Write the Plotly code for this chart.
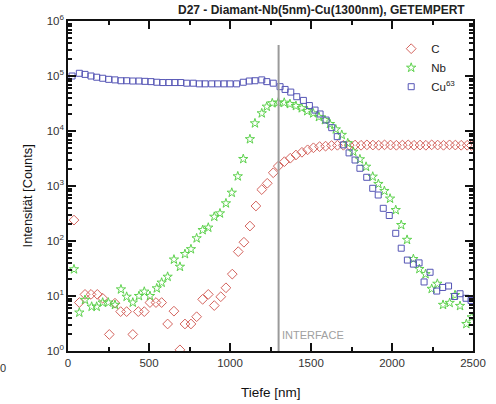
import plotly.graph_objects as go

# ---- data ----
c_depth = [37, 70, 105, 142, 181, 214, 255, 290, 325, 362, 400, 434, 471, 506, 543, 578, 615, 654, 691, 722,
           759, 794, 831, 866, 903, 943, 975, 1014, 1051, 1086, 1123, 1160, 1196, 1230, 1267, 1298, 1336, 1372,
           1407, 1444, 1479, 1515, 1553, 1590, 1627, 1663, 1700, 1736, 1772, 1809, 1845, 1882, 1918, 1954, 1991,
           2027, 2064, 2100, 2136, 2173, 2209, 2245, 2282, 2318, 2355, 2391, 2427, 2464, 2490]
c_counts = [240, 7.6, 10.7, 10.7, 10.7, 9.1, 2.0, 7.4, 5.2, 5.2, 2.0, 5.2, 5.2, 7.6, 7.6, 7.6, 3.1, 5.3, 1.05, 3.1,
            3.1, 4.2, 8.7, 10.7, 6.7, 9.7, 14.1, 25, 64, 95, 187, 433, 860, 1120, 1740, 2300, 2770, 3200,
            3660, 4100, 4550, 4950, 5200, 5300, 5450, 5500, 5500, 5550, 5550, 5500, 5600, 5550, 5500, 5600, 5550,
            5500, 5550, 5600, 5500, 5550, 5500, 5600, 5550, 5500, 5600, 5550, 5500, 5500, 5450]

nb_depth = [37, 70, 105, 146, 177, 214, 249, 290, 327, 362, 400, 438, 471, 506, 548, 578, 615, 654, 691, 722,
            759, 794, 831, 866, 903, 938, 975, 1011, 1048, 1082, 1123, 1154, 1196, 1227, 1261, 1298, 1335, 1370,
            1407, 1443, 1477, 1514, 1549, 1586, 1617, 1653, 1690, 1727, 1761, 1802, 1840, 1881, 1916, 1953, 1988,
            2023, 2057, 2093, 2132, 2169, 2207, 2245, 2280, 2315, 2356, 2389, 2420, 2459, 2492]
nb_counts = [30.6, 5.0, 8.5, 6.4, 6.4, 7.6, 7.6, 6.9, 13.2, 9.7, 7.6, 10, 12, 10, 13.8, 17.5, 22.4, 46, 34, 58,
             71, 112, 158, 175, 276, 318, 484, 755, 1500, 3100, 7100, 13800, 21000, 27700, 32000, 33000, 32700, 31000,
             28500, 26000, 23000, 21000, 18000, 15800, 13400, 10700, 8500, 6000, 4200, 3060, 2240, 1480, 1090, 813, 590,
             365, 195, 105, 47, 31, 25, 13.5, 16.7, 6.9, 7.5, 10.4, 6.6, 3.1, 4.1]

cu_depth = [25, 70, 105, 142, 177, 214, 251, 290, 327, 362, 400, 438, 475, 512, 548, 585, 623, 660, 696, 733,
            773, 811, 846, 887, 924, 963, 1000, 1041, 1082, 1119, 1154, 1196, 1227, 1267, 1309, 1340, 1375, 1412,
            1453, 1490, 1525, 1556, 1593, 1628, 1662, 1700, 1735, 1772, 1802, 1844, 1881, 1915, 1946, 1983, 2023,
            2057, 2095, 2132, 2167, 2198, 2235, 2276, 2313, 2349, 2386, 2420, 2457, 2488]
cu_counts = [100000, 112000, 107000, 100000, 95000, 91000, 87000, 85000, 82000, 82000, 81000, 81000, 80000, 79000,
             77000, 76000, 76000, 76000, 76000, 74000, 74000, 72000, 72000, 72000, 72000, 72000, 72000, 72000,
             77000, 81000, 82000, 85000, 79000, 74000, 64000, 57000, 51000, 42000, 36000, 29000, 24000, 20400,
             15800, 11500, 7900, 5600, 4000, 2970, 2100, 1440, 908, 686, 393, 291, 138, 74, 45, 38, 40, 18, 27,
             12.3, 14.3, 15.2, 9.8, 11, 9.1, 8.3]

x_ticks = [0, 500, 1000, 1500, 2000, 2500]
y_tick_exps = [0, 1, 2, 3, 4, 5, 6]
interface_depth = 1300

FONT = "Liberation Sans, Arial, sans-serif"

fig = go.Figure()
fig.add_trace(go.Scatter(x=c_depth, y=c_counts, mode="markers", name="C",
                         marker=dict(symbol="diamond-open", size=7.5, color="#d4645e", line=dict(width=1))))
fig.add_trace(go.Scatter(x=nb_depth, y=nb_counts, mode="markers", name="Nb",
                         marker=dict(symbol="star-open", size=7, color="#5ed24e", line=dict(width=1))))
fig.add_trace(go.Scatter(x=cu_depth, y=cu_counts, mode="markers", name="Cu<sup>63</sup>",
                         marker=dict(symbol="square-open", size=6, color="#5555b5", line=dict(width=1))))

fig.add_shape(type="line", xref="x", yref="paper", x0=interface_depth, x1=interface_depth, y0=0, y1=0.927,
              line=dict(color="#9a9a9a", width=2))
fig.add_annotation(x=interface_depth, xref="x", y=0.048, yref="paper", text="INTERFACE", showarrow=False,
                   xanchor="left", yanchor="middle", xshift=1,
                   font=dict(family=FONT, size=11, color="#a0a0a0"))

# chart title
fig.add_annotation(x=0.985, xref="paper", y=1.033, yref="paper", yanchor="middle", xanchor="right",
                   text="<b>D27 - Diamant-Nb(5nm)-Cu(1300nm), GETEMPERT</b>", showarrow=False,
                   font=dict(family=FONT, size=12, color="#222"))
# axis titles
fig.add_annotation(x=0.5, xref="paper", y=-0.125, yref="paper", xanchor="center", yanchor="middle",
                   text="Tiefe [nm]", showarrow=False, font=dict(family=FONT, size=13.5, color="#111"))
fig.add_annotation(x=-0.1, xref="paper", y=0.47, yref="paper", xanchor="center", yanchor="middle",
                   text="Intensität [Counts]", textangle=-90, showarrow=False,
                   font=dict(family=FONT, size=12.8, color="#111"))
# stray fragment of a neighbouring label at the left edge
fig.add_annotation(x=-0.148, xref="paper", y=-0.052, yref="paper", xanchor="right", yanchor="middle",
                   text="00", showarrow=False, font=dict(family=FONT, size=11, color="#333"))

fig.update_xaxes(range=[0, 2500], tickvals=x_ticks, ticks="inside", ticklen=8, tickwidth=1.5,
                 tickcolor="#111", showline=True, linecolor="#111", linewidth=1.5, mirror="ticks",
                 showgrid=False, zeroline=False, automargin=False,
                 minor=dict(dtick=250, ticks="inside", ticklen=4, tickcolor="#111", showgrid=False),
                 tickfont=dict(family=FONT, size=11.5, color="#333"))
fig.update_yaxes(type="log", range=[0, 6], tickvals=[10 ** e for e in y_tick_exps],
                 ticktext=["10<sup>%d</sup>" % e for e in y_tick_exps],
                 ticks="inside", ticklen=8, tickwidth=1.5, tickcolor="#111",
                 showline=True, linecolor="#111", linewidth=1.5, mirror="ticks", showgrid=False, zeroline=False,
                 automargin=False,
                 minor=dict(dtick="D1", ticks="inside", ticklen=4, tickcolor="#111", showgrid=False),
                 tickfont=dict(family=FONT, size=11.5, color="#333"))

fig.update_layout(width=496, height=404, margin=dict(l=68, r=23, t=21, b=53, autoexpand=False),
                  paper_bgcolor="white", plot_bgcolor="white",
                  legend=dict(x=0.798, y=0.96, xanchor="left", yanchor="top", bgcolor="rgba(0,0,0,0)",
                              font=dict(family=FONT, size=11.5, color="#222"), tracegroupgap=0,
                              itemwidth=30),
                  font=dict(family=FONT))

fig.write_html("out.html", post_script="document.body.style.margin='0';",
               config={"displayModeBar": False})
